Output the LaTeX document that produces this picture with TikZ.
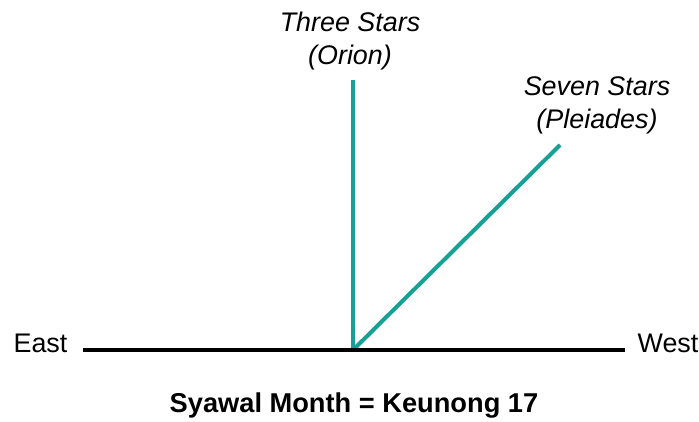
\documentclass[tikz,border=0pt]{standalone}
\usepackage{fontspec}
\setmainfont{Liberation Sans}
\usepackage{xcolor}
\definecolor{starcolor}{HTML}{17A096}
\usepackage{tikz}
\usetikzlibrary{positioning, calc}

\tikzset{
  skylabel/.style={font=\fontsize{15.3}{18.5}\selectfont\itshape, align=center, inner sep=0pt},
  dirlabel/.style={font=\fontsize{15.3}{18.5}\selectfont, inner sep=0pt},
  starline/.style={starcolor, line width=2.3pt},
}

\begin{document}
\begin{tikzpicture}
  \useasboundingbox (0,0) rectangle (13.98,8.42);
  \coordinate (horizonE) at (1.66,1.42);
  \coordinate (horizonW) at (12.5,1.42);
  \coordinate (origin) at (7.06,1.42);
  \coordinate (orionEnd) at (7.06,6.82);
  \coordinate (pleiadesEnd) at (11.2,5.52);
  \draw[starline] (origin) -- (orionEnd);
  \draw[starline] (origin) -- (pleiadesEnd);
  \draw[black, line width=2.3pt] (horizonE) -- (horizonW);
  \node[dirlabel] (east) at (0.81,1.56) {East};
  \node[dirlabel] (west) at (13.36,1.56) {West};
  \node[skylabel] (orion) at (7.0,7.6) {Three Stars\\(Orion)};
  \node[skylabel] (pleiades) at (11.94,6.31) {Seven Stars\\(Pleiades)};
  \node[font=\fontsize{15.5}{18.5}\selectfont\bfseries, inner sep=0pt] (month) at (7.08,0.30) {Syawal Month = Keunong 17};
\end{tikzpicture}
\end{document}
